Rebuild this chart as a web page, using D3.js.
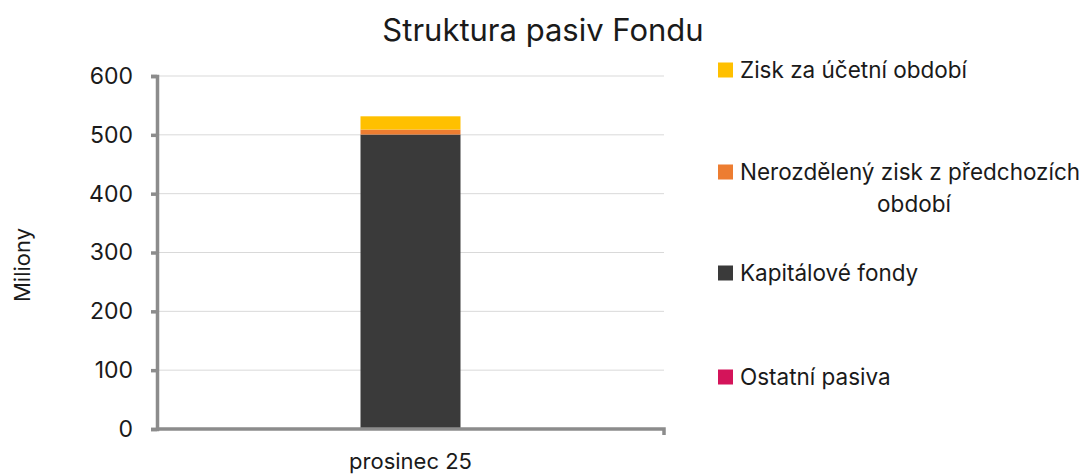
<!DOCTYPE html>
<html>
<head>
<meta charset="utf-8">
<script src="https://cdn.jsdelivr.net/npm/d3@7"></script>
<style>
  body { margin: 0; background: #fff; }
  svg text { font-family: Inter, "Open Sans", sans-serif; fill: #1a1a1a; }
</style>
</head>
<body>
<div id="chart"></div>
<script>
// data
const categories = ["prosinec 25"];
const seriesNames = ["Ostatní pasiva", "Kapitálové fondy", "Nerozdělený zisk z předchozích období", "Zisk za účetní období"];
const seriesColors = ["#d4145a", "#3a3a3a", "#ed7d31", "#ffc000"];
const ostatniPasiva = [0.5];
const kapitaloveFondy = [500];
const nerozdelenyZisk = [8.5];
const ziskObdobi = [22.5];
const yTicks = [0, 100, 200, 300, 400, 500, 600];

const width = 1092, height = 474;
const margin = { left: 157, right: 428, top: 76, bottom: 45 };
const font = 'Inter, "Open Sans", sans-serif';

const svg = d3.select("#chart").append("svg")
  .attr("width", width).attr("height", height);

const x = d3.scaleBand()
  .domain(categories)
  .range([margin.left, width - margin.right])
  .paddingInner(0).paddingOuter(2.035);

const y = d3.scaleLinear()
  .domain([0, 600])
  .range([height - margin.bottom, margin.top]);

// gridlines
svg.append("g")
  .selectAll("line")
  .data(yTicks.filter(d => d > 0))
  .join("line")
  .attr("x1", margin.left).attr("x2", width - margin.right)
  .attr("y1", d => y(d)).attr("y2", d => y(d))
  .attr("stroke", "#d9d9d9").attr("stroke-width", 1);

// stacked bars
const rows = categories.map((c, i) => ({
  cat: c,
  "Ostatní pasiva": ostatniPasiva[i],
  "Kapitálové fondy": kapitaloveFondy[i],
  "Nerozdělený zisk z předchozích období": nerozdelenyZisk[i],
  "Zisk za účetní období": ziskObdobi[i]
}));
const stack = d3.stack().keys(seriesNames)(rows);

svg.append("g")
  .selectAll("g")
  .data(stack)
  .join("g")
  .attr("fill", (d, i) => seriesColors[i])
  .selectAll("rect")
  .data(d => d)
  .join("rect")
  .attr("x", d => x(d.data.cat))
  .attr("width", x.bandwidth())
  .attr("y", d => y(d[1]))
  .attr("height", d => y(d[0]) - y(d[1]));

// y axis
const yAxis = svg.append("g")
  .attr("transform", `translate(${margin.left},0)`)
  .call(d3.axisLeft(y).tickValues(yTicks).tickSize(6).tickPadding(18));
yAxis.select(".domain").attr("stroke", "#8c8c8c").attr("stroke-width", 3.5);
yAxis.selectAll(".tick line").attr("stroke", "#8c8c8c").attr("stroke-width", 3.5);
yAxis.selectAll(".tick text")
  .style("font-size", "23px").attr("fill", "#1a1a1a")
  .style("font-family", font);

// x axis
const xAxis = svg.append("g")
  .attr("transform", `translate(0,${y(0)})`)
  .call(d3.axisBottom(x).tickSize(0).tickPadding(24));
xAxis.select(".domain").attr("stroke", "#8c8c8c").attr("stroke-width", 3.5)
  .attr("d", `M${margin.left},0H${width - margin.right}V6`);
xAxis.selectAll(".tick text")
  .style("font-size", "22px").attr("fill", "#1a1a1a")
  .style("font-family", font);

// title
svg.append("text")
  .attr("x", 543).attr("y", 41)
  .attr("text-anchor", "middle")
  .style("font-size", "31px")
  .text("Struktura pasiv Fondu");

// y label
svg.append("text")
  .attr("transform", `translate(30,265) rotate(-90)`)
  .attr("text-anchor", "middle")
  .style("font-size", "22px")
  .text("Miliony");

// legend (top to bottom reversed)
const legendItems = [
  { name: "Zisk za účetní období", color: seriesColors[3], y: 70 },
  { name: "Nerozdělený zisk z předchozích", line2: "období", color: seriesColors[2], y: 172 },
  { name: "Kapitálové fondy", color: seriesColors[1], y: 273 },
  { name: "Ostatní pasiva", color: seriesColors[0], y: 377 }
];
const lg = svg.append("g").selectAll("g").data(legendItems).join("g");
lg.append("rect")
  .attr("x", 718).attr("y", d => d.y - 7.5)
  .attr("width", 15).attr("height", 15)
  .attr("fill", d => d.color);
lg.append("text")
  .attr("x", 740).attr("y", d => d.y + 8)
  .style("font-size", "22.5px")
  .text(d => d.name);
lg.filter(d => d.line2).append("text")
  .attr("x", 914).attr("y", d => d.y + 40)
  .attr("text-anchor", "middle")
  .style("font-size", "22.5px")
  .text(d => d.line2);
</script>
</body>
</html>
